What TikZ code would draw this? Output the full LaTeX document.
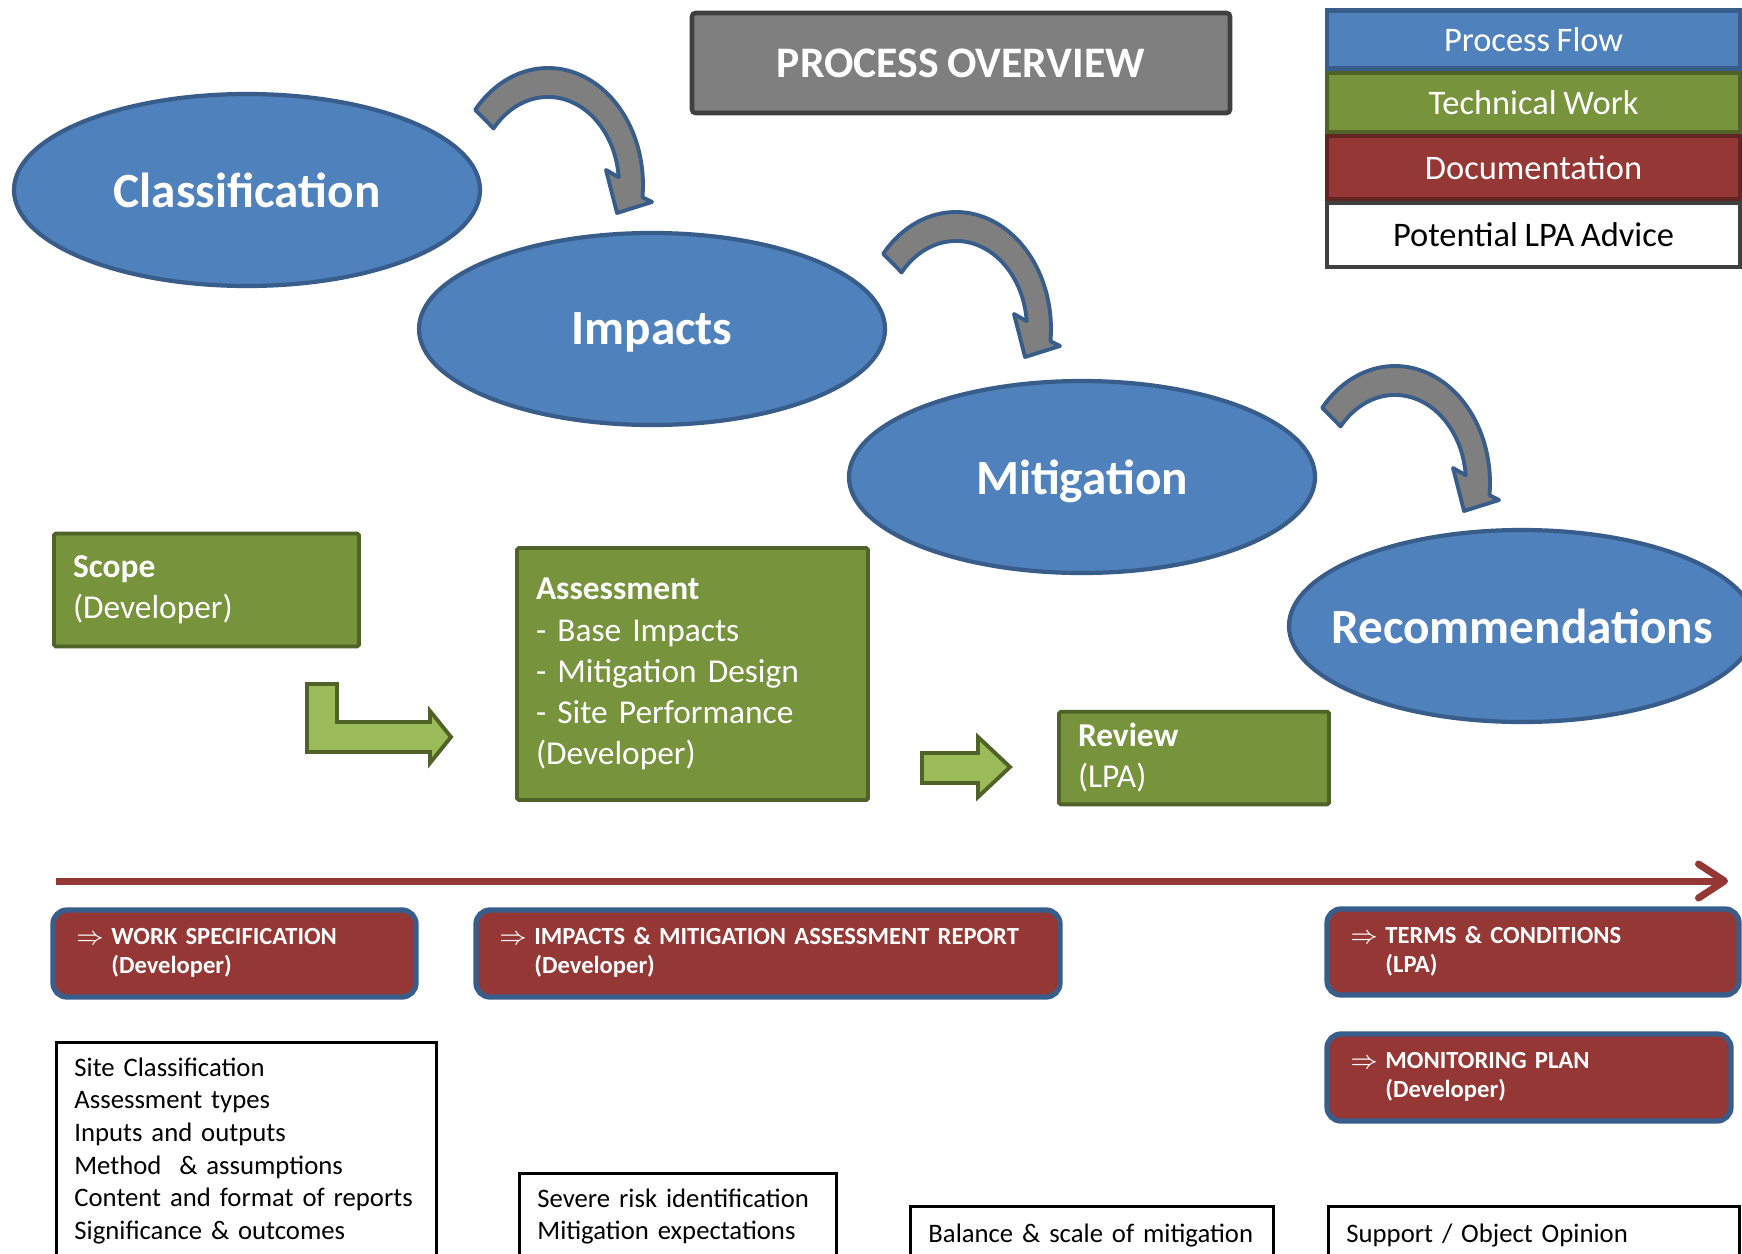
\documentclass[tikz,border=0pt]{standalone}
\usepackage{fontspec}
\setmainfont{Carlito}[WordSpace=0.85]
\usepackage{tikz}
\usetikzlibrary{shapes.geometric}
\usetikzlibrary{arrows.meta}
\usetikzlibrary{positioning}

\definecolor{flowfill}{HTML}{4F81BD}
\definecolor{flowline}{HTML}{385D8A}
\definecolor{techfill}{HTML}{77933C}
\definecolor{techline}{HTML}{4F6228}
\definecolor{pushfill}{HTML}{9BBB59}
\definecolor{docfill}{HTML}{953735}
\definecolor{docline}{HTML}{632523}
\definecolor{turngray}{HTML}{7F7F7F}
\definecolor{titleline}{HTML}{404040}

\newcommand{\docitem}[2]{\begin{tabular}{@{}l@{\hspace{0.3em}}l@{}}$\Rightarrow$ & #1\\ & #2\end{tabular}}

\tikzset{
  flow/.style={ellipse, draw=flowline, fill=flowfill, line width=1.2pt,
    minimum width=4.66cm, minimum height=1.92cm, inner sep=0pt},
  flowtext/.style={text=white, text depth=0pt, font=\fontsize{14}{17}\selectfont\bfseries},
  turn/.style={draw=flowline, fill=turngray, line width=1.1pt, line join=round},
  headbox/.style={draw=titleline, fill=turngray, line width=1.3pt, rounded corners=1pt,
    minimum width=5.38cm, minimum height=1.0cm, text=white,
    font=\fontsize{12.4}{14}\selectfont\bfseries},
  tech/.style={draw=techline, fill=techfill, line width=1.1pt, rounded corners=0.5pt,
    text=white, align=left, inner xsep=0.19cm, font=\fontsize{9.5}{11.7}\selectfont},
  push/.style={draw=techline, fill=pushfill, line width=1.1pt},
  doc/.style={draw=flowline, fill=docfill, line width=1.5pt, rounded corners=0.14cm,
    text=white, align=left, inner xsep=0.23cm, font=\fontsize{7}{8.3}\selectfont\bfseries},
  advice/.style={draw=black, fill=white, line width=0.8pt, anchor=north west,
    align=left, inner xsep=0.18cm, font=\fontsize{7.6}{9.3}\selectfont},
  key/.style={minimum width=4.13cm, line width=1.2pt, inner sep=0pt,
    font=\fontsize{9.8}{12}\selectfont},
  timeline/.style={draw=docfill, line width=2pt,
    -{Straight Barb[length=2.6mm,width=3.4mm,round]}},
  bendarrow/.pic={
    \draw[turn] (-0.728,0.752) arc[start angle=140,end angle=-6,x radius=0.95,y radius=1.17]
      -- (1.04,-0.17) -- (0.69,-0.28) -- (0.58,0.15) -- (0.707,0.077)
      arc[start angle=5,end angle=140,x radius=0.71,y radius=0.88] -- cycle;
  }
}

\begin{document}
\begin{tikzpicture}
  \useasboundingbox (0,0) rectangle (17.42,-12.53);
  \fill[white] (0,0) rectangle (17.42,-12.53);
  \clip (0,0) rectangle (17.42,-12.53);

  % process flow
  \node[flow, label={[flowtext]center:Classification}] (cls) at (2.47,-1.90) {};
  \node[flow, label={[flowtext]center:Impacts}] (imp) at (6.52,-3.29) {};
  \node[flow, label={[flowtext]center:Mitigation}] (mit) at (10.82,-4.77) {};
  \node[flow, label={[flowtext]center:Recommendations}] (rec) at (15.22,-6.26) {};
  \pic at (5.48,-1.85) {bendarrow};
  \pic at (9.56,-3.29) {bendarrow};
  \pic at (13.95,-4.83) {bendarrow};

  \node[headbox] (title) at (9.61,-0.63) {PROCESS OVERVIEW};

  % legend
  \node[key, draw=flowline, fill=flowfill, text=white, minimum height=0.58cm] (flowkey) at (15.335,-0.395) {Process Flow};
  \node[key, draw=techline, fill=techfill, text=white, minimum height=0.59cm, below=0pt of flowkey] (techkey) {Technical Work};
  \node[key, draw=docline, fill=docfill, text=white, minimum height=0.63cm, below=0pt of techkey] (dockey) {Documentation};
  \node[key, draw=titleline, fill=white, text=black, minimum height=0.64cm, below=0pt of dockey] (advkey) {Potential LPA Advice};

  % technical work
  \node[tech, text width=2.67cm, minimum height=1.13cm] (scope) at (2.065,-5.90)
    {\textbf{Scope}\\(Developer)};
  \node[tech, text width=3.13cm, minimum height=2.52cm] (assess) at (6.925,-6.74)
    {\textbf{Assessment}\\- Base Impacts\\- Mitigation Design\\- Site Performance\\(Developer)};
  \node[tech, text width=2.32cm, minimum height=0.86cm] (review) at (11.94,-7.58)
    {\textbf{Review}\\(LPA)};
  \draw[push] (3.07,-6.84) -- (3.37,-6.84) -- (3.37,-7.22) -- (4.30,-7.22) -- (4.30,-7.11)
    -- (4.51,-7.37) -- (4.30,-7.63) -- (4.30,-7.52) -- (3.07,-7.52) -- cycle;
  \draw[push] (9.22,-7.53) -- (9.78,-7.53) -- (9.78,-7.37) -- (10.10,-7.67) -- (9.78,-7.97)
    -- (9.78,-7.83) -- (9.22,-7.83) -- cycle;

  % timeline
  \coordinate (tstart) at (0.56,-8.81);
  \coordinate (tend) at (17.28,-8.81);
  \draw[timeline] (tstart) -- (tend);

  % documentation
  \node[doc, text width=3.17cm, minimum height=0.87cm] (work) at (2.345,-9.535)
    {\docitem{WORK SPECIFICATION}{(Developer)}};
  \node[doc, text width=5.38cm, minimum height=0.87cm] (report) at (7.68,-9.535)
    {\docitem{IMPACTS \& MITIGATION ASSESSMENT REPORT}{(Developer)}};
  \node[doc, text width=3.66cm, minimum height=0.86cm] (terms) at (15.33,-9.52)
    {\docitem{TERMS \& CONDITIONS}{(LPA)}};
  \node[doc, text width=3.58cm, minimum height=0.87cm] (monitor) at (15.29,-10.775)
    {\docitem{MONITORING PLAN}{(Developer)}};

  % LPA advice
  \node[advice, text width=3.44cm, minimum height=2.17cm] (siteadv) at (0.55,-10.41)
    {Site Classification\\Assessment types\\Inputs and outputs\\Method~ \& assumptions\\Content and format of reports\\Significance \& outcomes};
  \node[advice, text width=2.81cm, minimum height=0.86cm] (riskadv) at (5.18,-11.72)
    {Severe risk identification\\Mitigation expectations};
  \node[advice, text width=3.27cm, minimum height=0.58cm] (balanceadv) at (9.09,-12.05)
    {Balance \& scale of mitigation};
  \node[advice, text width=3.75cm, minimum height=0.58cm] (supportadv) at (13.27,-12.05)
    {Support / Object Opinion};
\end{tikzpicture}
\end{document}
